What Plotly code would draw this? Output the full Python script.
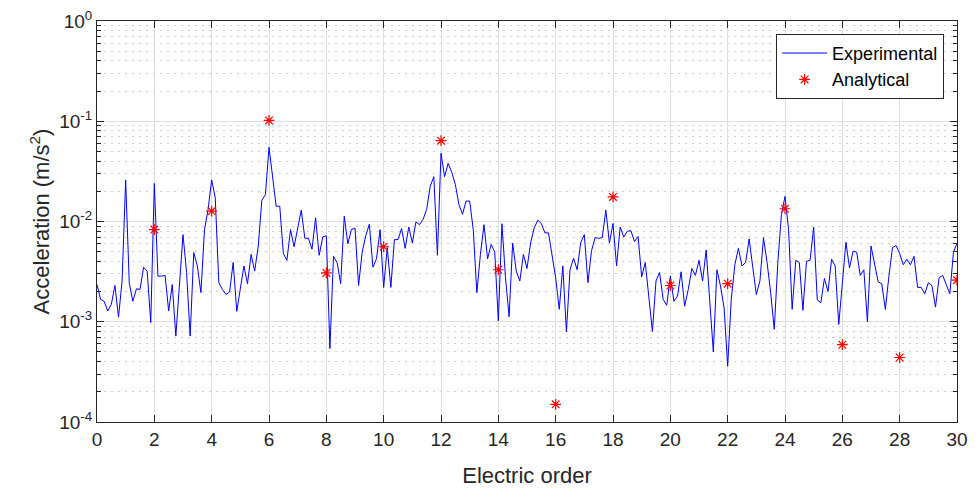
import numpy as np
import plotly.graph_objects as go

# Electric order axis for the experimental spectrum (resolution 1/8 order)
order_step = 0.125
experimental = [
    2.35e-3, 1.67e-3, 1.6e-3, 1.28e-3, 1.49e-3, 2.3e-3, 1.11e-3, 2.55e-3,
    0.026, 2.45e-3, 1.6e-3, 2.13e-3, 2.1e-3, 3.5e-3, 3.2e-3, 0.98e-3,
    0.024, 2.85e-3, 2.85e-3, 2.9e-3, 1.28e-3, 2.35e-3, 0.72e-3, 2.1e-3,
    7.4e-3, 3.1e-3, 0.72e-3, 4.9e-3, 3.6e-3, 1.95e-3, 8.3e-3, 0.0132,
    0.026, 0.0172, 2.45e-3, 2.1e-3, 1.87e-3, 1.98e-3, 3.9e-3, 1.27e-3,
    2.1e-3, 3.6e-3, 2.4e-3, 4.7e-3, 3.2e-3, 5.7e-3, 0.0163, 0.0185,
    0.055, 0.026, 0.0142, 0.0142, 4.8e-3, 4.1e-3, 8.3e-3, 5.6e-3,
    8.5e-3, 0.013, 6.8e-3, 6.8e-3, 5.3e-3, 0.0109, 4.6e-3, 7.0e-3,
    7.2e-3, 0.54e-3, 4.5e-3, 3.9e-3, 2.4e-3, 0.0113, 6.0e-3, 8.3e-3,
    8.6e-3, 2.3e-3, 4.95e-3, 7.2e-3, 9.4e-3, 3.5e-3, 4.25e-3, 8.3e-3,
    2.2e-3, 5.5e-3, 2.2e-3, 6.6e-3, 6.6e-3, 8.5e-3, 5.4e-3, 8.8e-3,
    6.1e-3, 9.9e-3, 9.3e-3, 0.0105, 0.0132, 0.0225, 0.028, 4.6e-3,
    0.048, 0.028, 0.038, 0.031, 0.0234, 0.0148, 0.0118, 0.016,
    0.016, 8.3e-3, 1.95e-3, 4.7e-3, 9.3e-3, 4.25e-3, 5.9e-3, 4.95e-3,
    1.02e-3, 9.5e-3, 2.75e-3, 1.12e-3, 6.1e-3, 3.2e-3, 2.55e-3, 4.7e-3,
    3.4e-3, 6.1e-3, 8.6e-3, 0.0103, 9.55e-3, 7.7e-3, 7.7e-3, 4.5e-3,
    2.75e-3, 1.33e-3, 3.6e-3, 0.79e-3, 3.3e-3, 4.3e-3, 3.3e-3, 6.2e-3,
    7.4e-3, 2.45e-3, 5.1e-3, 6.9e-3, 6.8e-3, 6.9e-3, 0.013, 6.1e-3,
    9.55e-3, 3.6e-3, 8.8e-3, 7.0e-3, 8.0e-3, 8.1e-3, 6.3e-3, 7.1e-3,
    2.8e-3, 3.9e-3, 1.67e-3, 0.8e-3, 2.55e-3, 3.1e-3, 1.67e-3, 1.46e-3,
    2.85e-3, 1.6e-3, 1.8e-3, 3.15e-3, 1.43e-3, 2.1e-3, 3.4e-3, 2.9e-3,
    4.1e-3, 2.55e-3, 5.2e-3, 1.67e-3, 0.5e-3, 3.3e-3, 2.27e-3, 1.38e-3,
    0.36e-3, 1.67e-3, 3.7e-3, 5.4e-3, 3.6e-3, 3.9e-3, 6.7e-3, 3.5e-3,
    1.87e-3, 2.55e-3, 6.9e-3, 3.9e-3, 1.95e-3, 0.84e-3, 3.9e-3, 0.0117,
    0.0178, 8.3e-3, 1.33e-3, 4.1e-3, 3.9e-3, 1.3e-3, 4.0e-3, 4.1e-3,
    8.8e-3, 1.65e-3, 1.55e-3, 2.7e-3, 2.0e-3, 4.2e-3, 3.6e-3, 0.94e-3,
    2.35e-3, 6.2e-3, 3.45e-3, 5.05e-3, 4.95e-3, 2.9e-3, 3.3e-3, 1.0e-3,
    5.7e-3, 3.6e-3, 2.5e-3, 2.4e-3, 1.33e-3, 2.85e-3, 5.5e-3, 5.75e-3,
    4.8e-3, 3.7e-3, 4.2e-3, 3.7e-3, 4.5e-3, 2.2e-3, 2.2e-3, 1.9e-3,
    2.45e-3, 2.3e-3, 1.4e-3, 2.75e-3, 2.9e-3, 2.35e-3, 1.9e-3, 4.9e-3,
    6.1e-3,
]
exp_orders = [i * order_step for i in range(len(experimental))]

analytical_orders = [2, 4, 6, 8, 10, 12, 14, 16, 18, 20, 22, 24, 26, 28, 30]
analytical = [8.3e-3, 0.0127, 0.102, 3.07e-3, 5.6e-3, 0.064, 3.3e-3, 1.5e-4,
              0.0176, 2.3e-3, 2.4e-3, 0.0134, 0.59e-3, 0.44e-3, 2.6e-3]

x_ticks = list(range(0, 31, 2))
y_tick_vals = [1e-4, 1e-3, 1e-2, 1e-1, 1e0]
y_tick_text = ["10<sup>-4</sup>", "10<sup>-3</sup>", "10<sup>-2</sup>",
               "10<sup>-1</sup>", "10<sup>0</sup>"]
y_minor = [k * 10.0 ** e for e in range(-4, 0) for k in range(2, 10)]

FONT = "Liberation Sans, Arial, Helvetica, sans-serif"
AX = "#262626"

fig = go.Figure()
fig.add_trace(go.Scatter(
    x=exp_orders, y=experimental, mode="lines", name="Experimental",
    line=dict(color="#0000ff", width=1),
))
fig.add_trace(go.Scatter(
    x=analytical_orders, y=analytical, mode="markers", name="Analytical",
    marker=dict(symbol="asterisk-open", size=9, color="#ff0000",
                line=dict(color="#ff0000", width=1.2)),
))

fig.update_layout(
    width=978, height=488,
    margin=dict(l=97, r=21, t=21, b=66),
    paper_bgcolor="white", plot_bgcolor="white",
    font=dict(family=FONT, size=19, color=AX),
    showlegend=True,
    legend=dict(
        x=0.985, y=0.968, xanchor="right", yanchor="top",
        bgcolor="white", bordercolor=AX, borderwidth=1,
        font=dict(family=FONT, size=18, color="#000000"),
        tracegroupgap=0, itemwidth=45,
    ),
)
fig.update_xaxes(
    range=[0, 30], tickvals=x_ticks, ticktext=[str(v) for v in x_ticks],
    showline=True, linecolor=AX, linewidth=1, mirror="ticks",
    ticks="inside", ticklen=7, tickcolor=AX, automargin=False,
    showgrid=True, gridcolor="#dedede", gridwidth=1, zeroline=False,
    title=dict(text="Electric order", font=dict(size=22, color=AX), standoff=20),
    tickfont=dict(size=19, color=AX),
)
fig.update_yaxes(
    type="log", range=[-4, 0], tickvals=y_tick_vals, ticktext=y_tick_text,
    showline=True, linecolor=AX, linewidth=1, mirror="ticks",
    ticks="inside", ticklen=7, tickcolor=AX, automargin=False,
    showgrid=True, gridcolor="#dedede", gridwidth=1, zeroline=False,
    minor=dict(tickmode="array", tickvals=y_minor, ticks="inside", ticklen=4,
               tickcolor=AX, showgrid=True, gridcolor="#cfcfcf",
               griddash="2px,5px", gridwidth=1),
    title=dict(text="Acceleration (m/s<sup>2</sup>)", font=dict(size=22, color=AX),
               standoff=3),
    tickfont=dict(size=19, color=AX),
)

fig.write_html("out.html")
